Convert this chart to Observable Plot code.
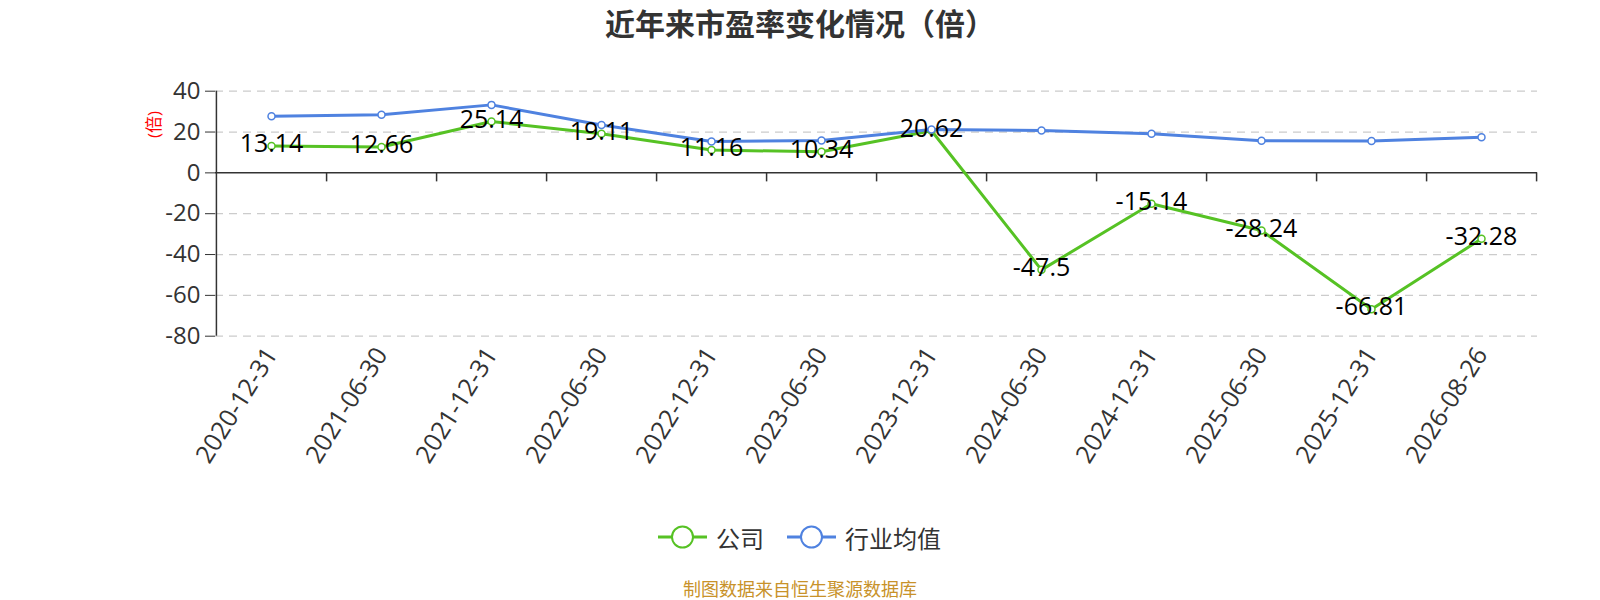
<!DOCTYPE html>
<html><head><meta charset="utf-8">
<script src="https://cdn.jsdelivr.net/npm/d3@7"></script>
<script src="https://cdn.jsdelivr.net/npm/@observablehq/plot@0.6"></script>
<style>
body{margin:0;background:#fff;font-family:"Open Sans","Noto Sans CJK SC",sans-serif;width:1600px;height:600px;position:relative;overflow:hidden;}
#title{position:absolute;left:0;top:0;width:1600px;height:44px;line-height:44px;text-align:center;font-size:30px;font-weight:bold;color:#333;font-family:"Noto Sans CJK SC",sans-serif;}
#chart{position:absolute;left:0;top:44px;}
#legend{position:absolute;left:0;top:514px;width:1600px;height:46px;}
#caption{position:absolute;left:0;top:572px;width:1600px;height:32px;line-height:32px;text-align:center;font-size:18px;color:#c8922a;font-family:"Noto Sans CJK SC",sans-serif;}
#ylab{position:absolute;left:139px;top:112px;color:#f00;font-size:17px;transform-origin:center;}
</style></head>
<body>
<div id="title">近年来市盈率变化情况（倍）</div>
<div id="chart"></div>
<div id="legend"></div>
<div id="caption">制图数据来自恒生聚源数据库</div>
<script>
const dates = ["2020-12-31","2021-06-30","2021-12-31","2022-06-30","2022-12-31","2023-06-30","2023-12-31","2024-06-30","2024-12-31","2025-06-30","2025-12-31","2026-08-26"];
const company = [13.14,12.66,25.14,19.11,11.16,10.34,20.62,-47.5,-15.14,-28.24,-66.81,-32.28];
const industry = [27.7,28.5,33.3,23.4,15.4,15.8,21.2,20.8,19.2,15.7,15.6,17.4];
const yTicks = [-80,-60,-40,-20,0,20,40];
const gridTicks = [-80,-60,-40,-20,20,40];
const seriesNames = ["公司","行业均值"];
const colors = ["#56c224","#4f82e0"];

const W = 1600, H = 460, ML = 215, MR = 63, MT = 46.7, MB = 168.3;
const bw = (W - ML - MR) / dates.length;

const compData = dates.map((d,i)=>({date:d, v:company[i]}));
const indData = dates.map((d,i)=>({date:d, v:industry[i]}));

const chart = Plot.plot({
  width: W, height: H,
  marginLeft: ML, marginRight: MR, marginTop: MT, marginBottom: MB,
  style: {fontFamily: '"Open Sans","Noto Sans CJK SC",sans-serif', background: "#fff"},
  x: {type: "band", domain: dates, padding: 0},
  y: {domain: [-80, 40]},
  marks: [
    Plot.ruleY(gridTicks, {stroke: "#cccccc", strokeWidth: 1.2, strokeDasharray: "8,6"}),
    Plot.axisY({ticks: yTicks, tickSize: 10, tickPadding: 5, fontSize: 24, color: "#333", label: null, tickFormat: d => String(d)}),
    Plot.axisX({anchor: "bottom", tickRotate: -58, tickSize: 0, tickPadding: 14, fontSize: 25, color: "#333", label: null}),
    Plot.ruleX([dates[0]], {dx: -bw/2, y1: -80, y2: 40, stroke: "#333", strokeWidth: 1.5}),
    Plot.ruleY([0], {stroke: "#333", strokeWidth: 1.5}),
    Plot.ruleX(dates, {dx: bw/2, y1: 0, y2: 0, insetBottom: -9, stroke: "#333", strokeWidth: 1.5}),
    Plot.line(compData, {x: "date", y: "v", stroke: colors[0], strokeWidth: 3}),
    Plot.dot(compData, {x: "date", y: "v", r: 3.5, fill: "#fff", stroke: colors[0], strokeWidth: 1.5}),
    Plot.line(indData, {x: "date", y: "v", stroke: colors[1], strokeWidth: 3}),
    Plot.dot(indData, {x: "date", y: "v", r: 3.5, fill: "#fff", stroke: colors[1], strokeWidth: 1.5}),
    Plot.text(compData, {x: "date", y: "v", text: d => String(d.v), fontSize: 25, fill: "#000", dy: -2})
  ]
});
document.getElementById("chart").appendChild(chart);

// y-axis label
const yl = document.createElement("div");
yl.id = "ylab";
yl.textContent = "(倍)";
yl.style.transform = "rotate(-90deg)";
document.body.appendChild(yl);

// legend
const leg = document.getElementById("legend");
const ns = "http://www.w3.org/2000/svg";
const lsvg = document.createElementNS(ns, "svg");
lsvg.setAttribute("width", 1600); lsvg.setAttribute("height", 46);
const items = [{x0: 658, tx: 716}, {x0: 787, tx: 845}];
seriesNames.forEach((name, i) => {
  const g = document.createElementNS(ns, "g");
  const cy = 23;
  const line = document.createElementNS(ns, "line");
  line.setAttribute("x1", items[i].x0); line.setAttribute("x2", items[i].x0 + 49);
  line.setAttribute("y1", cy); line.setAttribute("y2", cy);
  line.setAttribute("stroke", colors[i]); line.setAttribute("stroke-width", 3);
  const c = document.createElementNS(ns, "circle");
  c.setAttribute("cx", items[i].x0 + 24.5); c.setAttribute("cy", cy); c.setAttribute("r", 10.5);
  c.setAttribute("fill", "#fff"); c.setAttribute("stroke", colors[i]); c.setAttribute("stroke-width", 2);
  const t = document.createElementNS(ns, "text");
  t.setAttribute("x", items[i].tx); t.setAttribute("y", cy);
  t.setAttribute("dominant-baseline", "central");
  t.setAttribute("font-size", 24); t.setAttribute("fill", "#333");
  t.setAttribute("font-family", '"Noto Sans CJK SC",sans-serif');
  t.textContent = name;
  g.appendChild(line); g.appendChild(c); g.appendChild(t);
  lsvg.appendChild(g);
});
leg.appendChild(lsvg);
</script>
</body></html>
